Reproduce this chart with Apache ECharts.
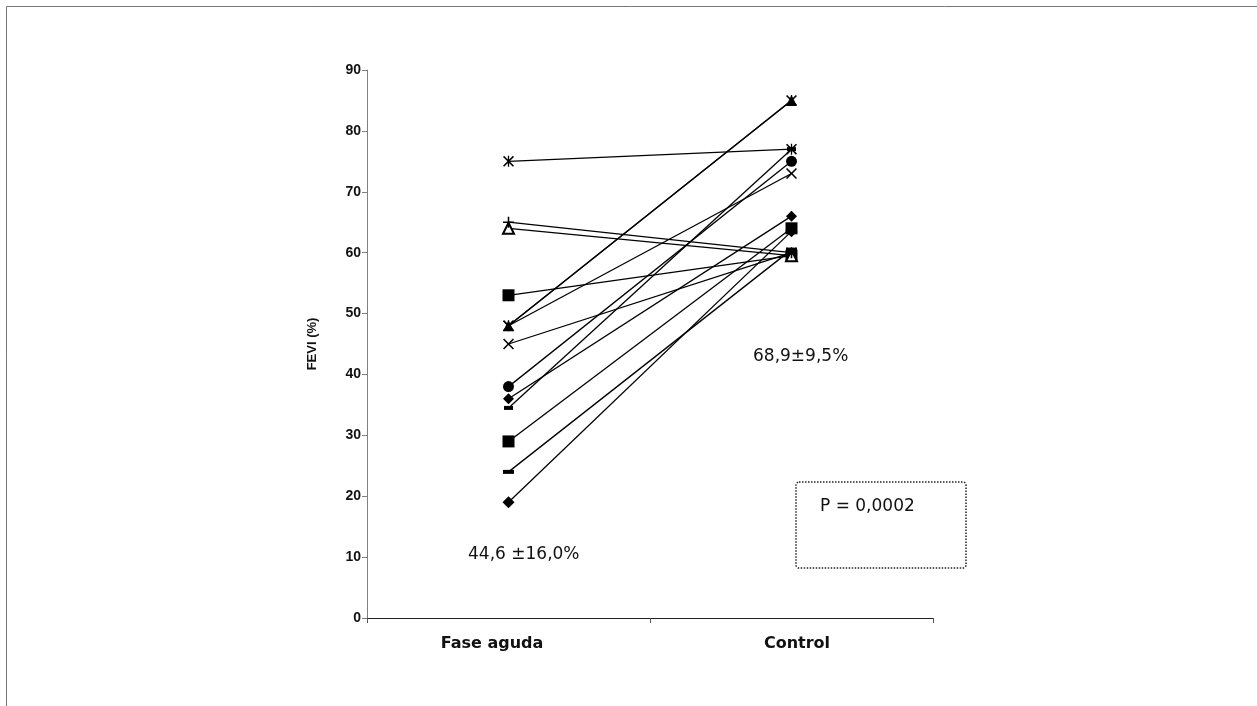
<!DOCTYPE html>
<html>
<head>
<meta charset="utf-8">
<script src="https://cdn.jsdelivr.net/npm/echarts@6/dist/echarts.min.js"></script>
<style>
html,body{margin:0;padding:0;background:#fff;}
#chart{width:1257px;height:706px;}
</style>
</head>
<body>
<div id="chart"></div>
<script>
// Categories
const categories = ['Fase aguda', 'Control'];
// Each patient: [Fase aguda, Control] FEVI values (%)
const p01 = [75, 77];
const p02 = [65, 60];
const p03 = [64, 59.5];
const p04 = [53, 59.5];
const p05 = [48, 85];
const p06 = [48, 85];
const p07 = [48, 73];
const p08 = [45, 60];
const p09 = [38, 75];
const p10 = [36, 66];
const p11 = [34.5, 77];
const p12 = [29, 64];
const p13 = [24, 60.5];
const p14 = [19, 63.5];
const patients = [p01, p02, p03, p04, p05, p06, p07, p08, p09, p10, p11, p12, p13, p14];
// Axis ticks
const yMin = 0, yMax = 90, yStep = 10;
// Annotations
const meanAcute = '44,6 ±16,0%';
const meanControl = '68,9±9,5%';
const pText = 'P = 0,0002';

const X_PATH = 'path://M0,1 L1,0 L5,4 L9,0 L10,1 L6,5 L10,9 L9,10 L5,6 L1,10 L0,9 L4,5 Z';
const STAR_PATH = 'path://M0,1 L1,0 L5,4 L9,0 L10,1 L6,5 L10,9 L9,10 L5,6 L1,10 L0,9 L4,5 Z M4.4,0 L5.6,0 L5.6,10 L4.4,10 Z';
const PLUS_PATH = 'path://M4.3,0 L5.7,0 L5.7,4.3 L10,4.3 L10,5.7 L5.7,5.7 L5.7,10 L4.3,10 L4.3,5.7 L0,5.7 L0,4.3 L4.3,4.3 Z';
const markers = [
  {s: STAR_PATH, z: 11},
  {s: PLUS_PATH, z: 11},
  {s: 'emptyTriangle', z: 10},
  {s: 'rect', size: 12, z: 9},
  {s: 'triangle', z: 10},
  {s: STAR_PATH, z: 11},
  {s: X_PATH, z: 11},
  {s: X_PATH, z: 11},
  {s: 'circle', z: 10},
  {s: 'diamond', z: 10},
  {s: 'rect', size: [9, 4], z: 9},
  {s: 'rect', size: 12, z: 9},
  {s: 'rect', size: [11, 4], z: 9},
  {s: 'diamond', size: 12, z: 10}
];

const series = patients.map((d, i) => ({
  type: 'line',
  data: d,
  symbol: markers[i].s,
  symbolSize: markers[i].size || 11,
  showSymbol: true,
  z: markers[i].z,
  lineStyle: {color: '#000', width: 1.3},
  itemStyle: {color: '#000', borderColor: '#000', borderWidth: markers[i].s === 'emptyTriangle' ? 1.5 : 0},
  emphasis: {disabled: true},
  animation: false
}));

const chart = echarts.init(document.getElementById('chart'));
chart.setOption({
  backgroundColor: '#fff',
  animation: false,
  grid: {left: 367, right: 324, top: 70, bottom: 88},
  xAxis: {
    type: 'category',
    data: categories,
    boundaryGap: true,
    axisLine: {lineStyle: {color: '#222', width: 1}},
    axisTick: {show: true, length: 5, lineStyle: {color: '#555'}},
    axisLabel: {
      margin: 18,
      formatter: (v, i) => i === 0 ? '{a|' + v + '}' : '{b|' + v + '}',
      rich: {
        a: {color: '#111', fontWeight: 'bold', fontSize: 16, fontFamily: 'DejaVu Sans', padding: [0, 33, 0, 0]},
        b: {color: '#111', fontWeight: 'bold', fontSize: 16, fontFamily: 'DejaVu Sans', padding: [0, 0, 0, 11]}
      }
    }
  },
  yAxis: {
    type: 'value',
    min: yMin, max: yMax, interval: yStep,
    name: 'FEVI (%)',
    nameLocation: 'middle',
    nameGap: 48,
    nameTextStyle: {color: '#111', fontWeight: 'bold', fontSize: 13, fontFamily: 'Liberation Sans, Arial, sans-serif'},
    axisLine: {show: true, lineStyle: {color: '#808080', width: 1}},
    axisTick: {show: true, length: 5, lineStyle: {color: '#808080'}},
    splitLine: {show: false},
    axisLabel: {color: '#111', fontWeight: 'bold', fontSize: 14, margin: 6, fontFamily: 'Liberation Sans, Arial, sans-serif'}
  },
  series: series,
  graphic: [
    {type: 'line', shape: {x1: 6.5, y1: 6.5, x2: 1257, y2: 6.5}, style: {stroke: '#777', lineWidth: 1}},
    {type: 'line', shape: {x1: 6.5, y1: 6.5, x2: 6.5, y2: 706}, style: {stroke: '#777', lineWidth: 1}},
    {type: 'text', left: 468, top: 546, style: {text: meanAcute, fill: '#111', fontSize: 17, fontFamily: 'DejaVu Sans'}},
    {type: 'text', left: 753, top: 348, style: {text: meanControl, fill: '#111', fontSize: 17, fontFamily: 'DejaVu Sans'}},
    {type: 'rect', shape: {x: 796, y: 482, width: 170, height: 86, r: 3}, style: {fill: 'none', stroke: '#222', lineWidth: 1.5, lineDash: [1.5, 1.5]}},
    {type: 'text', left: 820, top: 498, style: {text: pText, fill: '#111', fontSize: 17, fontFamily: 'DejaVu Sans'}}
  ]
});
</script>
</body>
</html>
